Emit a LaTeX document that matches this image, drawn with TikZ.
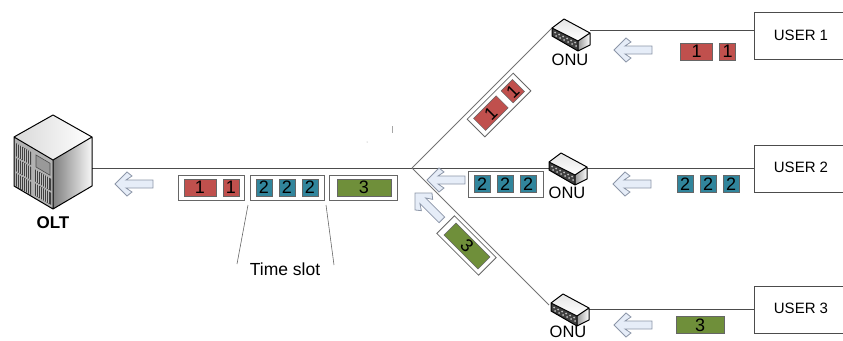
\documentclass[tikz,border=0pt]{standalone}
\usepackage{fontspec}
\setmainfont{Liberation Sans}
\definecolor{pktred}{HTML}{C0504D}
\definecolor{pktblue}{HTML}{31859C}
\definecolor{pktgreen}{HTML}{6F8F3A}
\definecolor{arrowfill}{HTML}{E6EDF8}
\definecolor{arrowedge}{HTML}{8C96A8}
\tikzset{
  link/.style={draw=black!70,line width=0.8pt},
  pkt/.style={draw=black!60,line width=0.5pt,inner sep=0pt,minimum height=17pt,text=black,font=\fontsize{18}{18}\selectfont},
  pktr/.style={pkt,fill=pktred},
  pktb/.style={pkt,fill=pktblue,minimum width=16pt},
  pktg/.style={pkt,fill=pktgreen},
  slotframe/.style={draw=black!60,fill=white,line width=0.8pt,inner sep=0pt,minimum height=25pt},
  userbox/.style={draw=black!70,fill=white,line width=0.8pt,minimum width=100pt,minimum height=47pt,inner sep=0pt},
  lab/.style={inner sep=0pt,font=\fontsize{16.5}{16.5}\selectfont},
  redrow/.pic={
    \node[pktr,minimum width=32pt] (-a) at (-11.5,0) {1};
    \node[pktr,minimum width=16pt] (-b) at (19.5,0) {1};
  },
  bluerow/.pic={
    \foreach \x/\n in {-23/a,0/b,23/c}
      \node[pktb] (-\n) at (\x,0) {2};
  },
  leftarrow/.pic={
    \draw[draw=arrowedge,fill=arrowfill,line width=0.8pt] (0,0) -- (12,-12) -- (17,-8) -- (11,-4) -- (38,-4)
      -- (38,4) -- (11,4) -- (17,8) -- (12,12) -- cycle;
  },
  onu/.pic={
    \fill[black!75] (-12,9) -- (14,22) -- (14,32) -- (-12,17) -- cycle;
    \foreach \x in {-9,-5,-1,3,7,11}
      \fill[black!25] (\x,{12+(\x+12)*0.5}) circle (1pt) (\x+1,{15.5+(\x+12)*0.5}) circle (1pt);
    \shade[left color=black!40,right color=white] (14,22) -- (26,14) -- (26,26) -- (14,32) -- cycle;
    \shade[top color=black!10,bottom color=white] (0,0) -- (26,14) -- (14,22) -- (-12,9) -- cycle;
    \draw[black,line width=1pt,line join=round] (0,0) -- (26,14) -- (26,26) -- (14,32) -- (-12,17) -- (-12,9) -- cycle
      (-12,9) -- (14,22) -- (26,14) (14,22) -- (14,32);
  }
}
\begin{document}
\begin{tikzpicture}[x=1pt,y=-1pt]
  \clip (0,0) rectangle (843,340);
  \coordinate (olt) at (92,168);
  \coordinate (split) at (412,168);
  \coordinate (onu1) at (552,28);
  \coordinate (onu1r) at (590,30);
  \coordinate (onu3) at (549,305);
  \coordinate (onu3r) at (588,309);
  \coordinate (slota) at (248,205);
  \coordinate (slotb) at (237,264);
  \coordinate (slotc) at (326,205);
  \coordinate (slotd) at (334,265);

  \node[userbox] (user1) at (804,36) {};
  \node[userbox] (user2) at (804,168.5) {};
  \node[userbox] (user3) at (804,309.5) {};
  \node[lab,font=\fontsize{15}{15}\selectfont] (user1txt) at (801,35) {USER 1};
  \node[lab,font=\fontsize{15}{15}\selectfont] (user2txt) at (801,167.5) {USER 2};
  \node[lab,font=\fontsize{15}{15}\selectfont] (user3txt) at (801,308) {USER 3};

  % lines
  \draw[link] (olt) -- (split);
  \draw[link] (split) -- (split -| user2.west);
  \draw[link,draw=black!55] (split) -- (onu1);
  \draw[link,draw=black!55] (split) -- (onu3);
  \draw[link] (onu1r) -- (onu1r -| user1.west);
  \draw[link] (onu3r) -- (onu3r -| user3.west);
  \draw[black!60,line width=0.6pt] (slota) -- (slotb);
  \draw[black!60,line width=0.6pt] (slotc) -- (slotd);
  \node[lab,font=\fontsize{17.5}{17.5}\selectfont] (slotlab) at (285,269) {Time slot};

  % OLT
  \fill[black!30] (14,137) -- (53,160) -- (53,209) -- (14,186) -- cycle;
  \begin{scope}[cm={1,-0.59,0,1,(14,137)}]
    \foreach \v in {5,20,35}
    {
      \fill[black!75] (2,\v) rectangle (17,\v+13);
      \foreach \u in {3.5,5.5,...,16}
        \draw[black!25,line width=0.5pt] (\u,\v) -- (\u,\v+13);
    }
    \foreach \v in {20,34}
    {
      \fill[black!75] (21,\v) rectangle (37,\v+12);
      \foreach \u in {22.5,24.5,...,36}
        \draw[black!25,line width=0.5pt] (\u,\v) -- (\u,\v+12);
    }
    \draw[black!70,fill=black!40,line width=0.6pt] (22,5) rectangle (36,17);
  \end{scope}
  \shade[left color=black!50,right color=black!3] (53,160) -- (92,137) -- (92,186) -- (53,209) -- cycle;
  \shade[left color=black!15,right color=white] (53,115) -- (92,137) -- (53,160) -- (14,137) -- cycle;
  \draw[black,line width=1pt,line join=round] (53,115) -- (92,137) -- (92,186) -- (53,209) -- (14,186) -- (14,137) -- cycle
    (14,137) -- (53,160) -- (92,137) (53,160) -- (53,209);
  \node[lab,font=\fontsize{17}{17}\selectfont\bfseries] (oltlab) at (53,223) {OLT};

  % ONU
  \pic (onua) at (564,19) {onu};
  \pic (onub) at (561,153) {onu};
  \pic (onuc) at (563,294) {onu};
  \node[lab] (onulab1) at (570,60) {ONU};
  \node[lab] (onulab2) at (567,193) {ONU};
  \node[lab] (onulab3) at (568,331.5) {ONU};

  % arrows
  \pic at (115,184) {leftarrow};
  \pic at (614,50) {leftarrow};
  \pic at (613,184) {leftarrow};
  \pic at (614,325) {leftarrow};
  \pic at (427,180) {leftarrow};
  \pic[rotate=-45] at (415,193) {leftarrow};

  % slots on the shared line
  \node[slotframe,minimum width=66pt] (slot1) at (211,187.5) {};
  \node[slotframe,minimum width=74pt] (slot2) at (287,187.5) {};
  \node[slotframe,minimum width=68pt] (slot3) at (363,187.5) {};
  \pic (s1) at (211.5,187.5) {redrow};
  \pic (s2) at (287,187.5) {bluerow};
  \node[pktg,minimum width=54pt] (s3) at (364,187.5) {3};

  % slots on the branches
  \node[slotframe,minimum width=65pt,rotate=45] (branch1) at (499,105) {};
  \pic[rotate=45,transform shape] (b1) at (499,105) {redrow};
  \node[slotframe,minimum width=75pt,minimum height=26pt] (branch2) at (505.5,184) {};
  \pic (b2) at (505,184) {bluerow};
  \node[slotframe,minimum width=59pt,rotate=-45] (branch3) at (466.5,245.5) {};
  \node[pktg,minimum width=48pt,rotate=-45] (b3) at (467,246) {3};

  % user packets
  \pic (u1) at (708,51.5) {redrow};
  \pic (u2) at (708,184) {bluerow};
  \node[pktg,minimum width=48pt] (u3) at (700,325) {3};

  % small marks
  \draw[black!35,line width=0.7pt] (392,126) -- (392,133);
  \fill[black!40] (367,142) circle (0.5pt);
\end{tikzpicture}
\end{document}
